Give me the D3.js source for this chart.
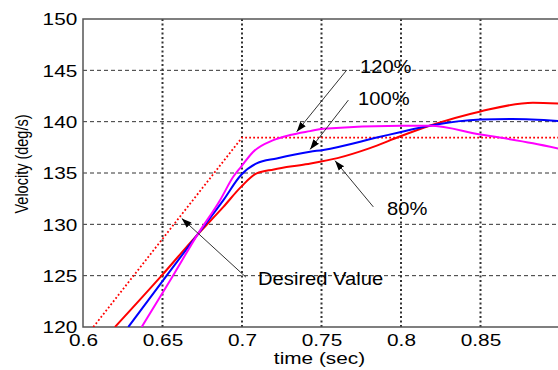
<!DOCTYPE html>
<html>
<head>
<meta charset="utf-8">
<script src="https://cdn.jsdelivr.net/npm/d3@7"></script>
<style>
  body { margin: 0; background: #fff; }
  svg { display: block; font-family: "Liberation Sans", Arial, sans-serif; }
</style>
</head>
<body>
<svg id="chart"></svg>
<script>
// series: [time (s), velocity (deg/s)]
var desired = [[0.6065, 120], [0.7, 138.45], [0.9, 138.45]]

var gain80 = [[0.6201, 120], [0.65, 125.1], [0.672, 129], [0.6883, 131.7], [0.6994, 133.65],
    [0.7092, 134.96], [0.72, 135.35], [0.74, 135.85], [0.76, 136.45], [0.78, 137.4],
    [0.8, 138.6], [0.818, 139.6], [0.85, 141.0], [0.883, 141.85], [0.9, 141.75]]

var gain100 = [[0.6285, 120], [0.6526, 125], [0.672, 129], [0.6883, 132.35], [0.6994, 134.8],
    [0.7092, 135.94], [0.7218, 136.42], [0.7428, 137.07], [0.7511, 137.25], [0.7862, 138.5],
    [0.8, 139.0], [0.818, 139.6], [0.85, 140.2], [0.87, 140.25], [0.9, 140.05]]

var gain120 = [[0.6369, 120], [0.6566, 125], [0.672, 129], [0.6862, 132.35], [0.6945, 134.63],
    [0.6994, 135.6], [0.7071, 137.07], [0.7197, 138.2], [0.7302, 138.7], [0.7428, 139.08],
    [0.7511, 139.3], [0.8, 139.6], [0.818, 139.6], [0.85, 138.75], [0.883, 137.9], [0.9, 137.35]]

var xTicks = [0.6, 0.65, 0.7, 0.75, 0.8, 0.85]
var yTicks = [120, 125, 130, 135, 140, 145, 150]
var xTickLabels = ["0.6", "0.65", "0.7", "0.75", "0.8", "0.85"]

// annotation labels, with tail / arrow tip in data units
var notes = [
    {label: "120%", text: [0.7742, 144.74], from: [0.7659, 145.03], to: [0.7344, 139.02]},
    {label: "100%", text: [0.7730, 141.6], from: [0.7669, 142.1], to: [0.7428, 137.3]},
    {label: "80%", text: [0.7912, 130.9], from: [0.7826, 131.7], to: [0.7585, 136.2]},
    {label: "Desired Value", text: [0.7101, 124.07], from: [0.7025, 124.85], to: [0.6621, 130.58]}
]

var dimensions = {
    width: 558,
    height: 370,
    margin: { top: 19, bottom: 43, left: 83, right: -2 }
}
var stretch = 1.3   // the picture is squeezed wider than it is tall

var svg = d3.select("#chart")
    .attr("width", dimensions.width)
    .attr("height", dimensions.height)

var xScale = d3.scaleLinear()
    .domain([0.6, 0.9])
    .range([dimensions.margin.left, dimensions.width - dimensions.margin.right])

var yScale = d3.scaleLinear()
    .domain([120, 150])
    .range([dimensions.height - dimensions.margin.bottom, dimensions.margin.top])

var plotTop = yScale(150), plotBottom = yScale(120)
var plotLeft = xScale(0.6), plotRight = xScale(0.9)

svg.append("defs").append("clipPath")
    .attr("id", "plot-clip")
    .append("rect")
    .attr("x", plotLeft)
    .attr("y", plotTop)
    .attr("width", plotRight - plotLeft)
    .attr("height", plotBottom - plotTop)

svg.select("defs").append("marker")
    .attr("id", "head")
    .attr("viewBox", "0 0 10 10")
    .attr("refX", 10)
    .attr("refY", 5)
    .attr("markerWidth", 10)
    .attr("markerHeight", 10)
    .attr("markerUnits", "userSpaceOnUse")
    .attr("orient", "auto")
    .append("path")
    .attr("d", "M0,1.5 L10,5 L0,8.5 Z")
    .attr("fill", "#000")

// grid
svg.append("g")
    .selectAll("line")
    .data(xTicks.slice(1))
    .join("line")
    .attr("x1", d => xScale(d))
    .attr("x2", d => xScale(d))
    .attr("y1", plotTop)
    .attr("y2", plotBottom)
    .attr("stroke", "#333")
    .attr("stroke-width", 2)
    .attr("stroke-dasharray", "2,2.5")

svg.append("g")
    .selectAll("line")
    .data(yTicks.slice(1, -1))
    .join("line")
    .attr("x1", plotLeft)
    .attr("x2", plotRight)
    .attr("y1", d => yScale(d))
    .attr("y2", d => yScale(d))
    .attr("stroke", "#333")
    .attr("stroke-width", 1)
    .attr("stroke-dasharray", "4,3")

// frame
svg.append("path")
    .attr("d", `M${plotRight},${plotTop} H${plotLeft} V${plotBottom} H${plotRight}`)
    .attr("fill", "none")
    .attr("stroke", "#555")
    .attr("stroke-width", 1.5)

// axes (labels only)
var xAxisGen = d3.axisBottom(xScale)
    .tickValues(xTicks)
    .tickFormat((d, i) => xTickLabels[i])
    .tickSize(0)
    .tickPadding(7.5)
var xAxis = svg.append("g")
    .attr("transform", `translate(0,${plotBottom})`)
    .call(xAxisGen)
xAxis.select(".domain").remove()
xAxis.selectAll("text")
    .attr("font-size", 16)
    .attr("fill", "#000")
    .attr("transform", `scale(${stretch},1)`)
xAxis.attr("font-family", null)

var yAxisGen = d3.axisLeft(yScale)
    .tickValues(yTicks)
    .tickSize(0)
    .tickPadding(4.4)
var yAxis = svg.append("g")
    .attr("transform", `translate(${plotLeft},0)`)
    .call(yAxisGen)
yAxis.select(".domain").remove()
yAxis.selectAll("text")
    .attr("font-size", 16)
    .attr("fill", "#000")
    .attr("dy", "0.36em")
    .attr("transform", `scale(${stretch},1)`)
yAxis.attr("font-family", null)

// series
var line = d3.line()
    .x(d => xScale(d[0]))
    .y(d => yScale(d[1]))
var smooth = d3.line()
    .x(d => xScale(d[0]))
    .y(d => yScale(d[1]))
    .curve(d3.curveMonotoneX)

var plot = svg.append("g").attr("clip-path", "url(#plot-clip)")

plot.append("path")
    .datum(desired)
    .attr("d", line)
    .attr("fill", "none")
    .attr("stroke", "#ff0000")
    .attr("stroke-width", 1.8)
    .attr("stroke-dasharray", "1.8,2.2")

var series = [
    {data: gain80, color: "#ff0000"},
    {data: gain100, color: "#0000ff"},
    {data: gain120, color: "#ff00ff"}
]
series.forEach(function(s) {
    plot.append("path")
        .datum(s.data)
        .attr("d", smooth)
        .attr("fill", "none")
        .attr("stroke", s.color)
        .attr("stroke-width", 2)
})

// annotations
notes.forEach(function(n) {
    svg.append("line")
        .attr("x1", xScale(n.from[0]))
        .attr("y1", yScale(n.from[1]))
        .attr("x2", xScale(n.to[0]))
        .attr("y2", yScale(n.to[1]))
        .attr("stroke", "#333")
        .attr("stroke-width", 1)
        .attr("marker-end", "url(#head)")

    svg.append("text")
        .attr("transform", `translate(${xScale(n.text[0])},${yScale(n.text[1])}) scale(1.12,1)`)
        .attr("font-size", 18)
        .attr("fill", "#000")
        .text(n.label)
})

// axis titles
svg.append("text")
    .attr("transform", `translate(${(plotLeft + plotRight) / 2 - 2},364) scale(${stretch},1)`)
    .attr("text-anchor", "middle")
    .attr("font-size", 16)
    .text("time (sec)")

svg.append("text")
    .attr("transform", `translate(28,164) scale(${stretch},1) rotate(-90)`)
    .attr("text-anchor", "middle")
    .attr("font-size", 14.5)
    .text("Velocity (deg/s)")
</script>
</body>
</html>
